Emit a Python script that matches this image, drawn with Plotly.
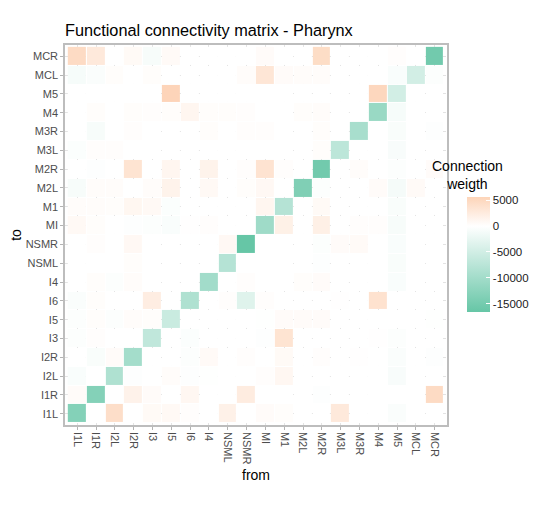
import plotly.graph_objects as go

# neurons, in axis order (bottom-to-top on y, left-to-right on x)
nodes = ["I1L", "I1R", "I2L", "I2R", "I3", "I5", "I6", "I4", "NSML", "NSMR",
         "MI", "M1", "M2L", "M2R", "M3L", "M3R", "M4", "M5", "MCL", "MCR"]

# "to" rows, top row first
to_rows = ["MCR", "MCL", "M5", "M4", "M3R", "M3L", "M2R", "M2L", "M1", "MI",
           "NSMR", "NSML", "I4", "I6", "I5", "I3", "I2R", "I2L", "I1R", "I1L"]

# connection weights, one list per "to" row, columns follow `nodes`
weights = [
    [4700, 2900, 0, 700, -900, 600, 0, 0, 0, 0, 500, 0, 0, 4500, 0, 0, 0, 200, 0, -15300],
    [-1000, -500, 300, 0, 300, 0, 0, 0, 0, 400, 3300, 500, 400, 400, 0, 0, 0, -600, -4900, -300],
    [0, 0, 0, 0, 0, 5600, 0, 0, 0, 0, 0, 0, 0, 0, 0, 0, 5200, -4900, 0, 0],
    [0, 300, 0, 300, 200, 300, 1200, 300, 300, 200, 0, 0, 300, 400, 0, 0, -11000, -1000, 0, 0],
    [0, -900, 0, 200, 0, 0, 0, 300, 0, 200, 200, 0, 0, 300, 0, -9400, 0, -700, 0, -200],
    [-400, 200, 200, 0, 0, 0, 0, 0, 0, 0, 0, 0, 0, 300, -7200, 0, 0, -800, 0, 0],
    [0, -200, 0, 3600, 0, 1200, 0, 1600, 0, 200, 3700, 200, 0, -15300, 0, 400, 0, -300, 0, 500],
    [-900, 400, 400, 0, 400, 1600, 0, 800, 0, 300, 900, 0, -13800, -300, 0, 0, 500, -1100, 600, 0],
    [400, 400, 300, 1100, 800, -400, 0, 0, 0, 0, 1200, -8000, 0, 700, 0, 0, 0, -700, 0, 0],
    [800, 300, 0, -200, -300, -600, 100, 200, 0, 0, -10400, 1900, 0, 2000, 0, 200, 200, -900, 0, 0],
    [0, 200, 0, 900, 0, 0, 0, 0, 900, -16600, 0, 0, 0, -300, 500, 600, 0, -600, 0, 0],
    [0, 0, 0, 300, 0, 0, 0, 0, -8000, 0, 0, 0, 0, -200, 0, 0, 0, -700, 0, 0],
    [0, 300, -300, 400, 0, 0, 0, -10000, 0, 200, 0, 0, 300, 500, 0, 0, 0, -600, 0, 0],
    [-500, 300, 0, 0, 2300, 0, -8600, 0, 200, -3500, 200, 0, 0, 0, 100, 0, 3800, 0, 0, 0],
    [-300, 300, -300, 400, 300, -5800, 0, 0, 0, 0, -100, 500, 500, 500, 0, 0, 0, 0, 0, -100],
    [-300, 200, 0, 0, -6800, 0, -400, 0, 0, 0, -200, 3600, 0, 0, 0, 0, 100, -300, 0, 0],
    [0, -700, 500, -9800, 0, 0, -300, 600, 0, 200, 0, 700, 0, 200, 0, 100, 0, -500, 0, -200],
    [-600, 0, -8600, -200, 0, 400, -200, -100, 0, 0, 200, 1000, 0, 0, 0, 0, 0, -800, 0, 0],
    [500, -13300, 0, 1700, 500, 0, 1000, 0, 0, 2500, 0, 0, 0, -200, 0, 0, 0, 0, 0, 4700],
    [-13300, 0, 4300, 0, 700, 800, 200, 0, 1800, 0, 500, 300, 0, 0, 2900, 0, 0, -500, 0, 0],
]

zmin, zmax = -16600, 5650
bar_ticks = [-15000, -10000, -5000, 0, 5000]
mid = -zmin / (zmax - zmin)

fig = go.Figure(go.Heatmap(
    z=weights, x=nodes, y=to_rows,
    zmin=zmin, zmax=zmax,
    colorscale=[[0, "#66c6a6"], [mid / 2, "#b2e2d3"], [mid, "#ffffff"], [1, "#fdd4b8"]],
    xgap=1, ygap=1,
    colorbar=dict(
        x=1.052, xanchor="left", y=0.449, yanchor="middle",
        len=115, lenmode="pixels", thickness=23, outlinewidth=0,
        xpad=0, ypad=0,
        tickvals=bar_ticks, ticktext=[str(v) for v in bar_ticks],
        ticks="inside", ticklen=4, tickcolor="white",
        tickfont=dict(family="Liberation Sans", size=11.5, color="#1a1a1a"),
    ),
))

axis_style = dict(
    type="category", categoryorder="array", categoryarray=nodes,
    showgrid=True, gridcolor="#e3e3e3", griddash="dot", gridwidth=1,
    showline=True, mirror=True, linecolor="#bdbdbd", linewidth=1.5,
    ticks="outside", ticklen=3, tickcolor="#b3b3b3",
    tickfont=dict(family="Liberation Sans", size=11, color="#4d4d4d"),
    zeroline=False, automargin=False,
)

fig.update_xaxes(axis_style, range=[-0.65, 19.65], tickangle=90,
                 title=dict(text="from", standoff=7,
                            font=dict(family="Liberation Sans", size=14, color="black")))
fig.update_yaxes(axis_style, range=[-0.6, 19.6],
                 title=dict(text="to", standoff=6,
                            font=dict(family="Liberation Sans", size=14, color="black")))

fig.add_annotation(text="Connection<br>weigth", xref="paper", yref="paper",
                   x=1.152, y=0.658, showarrow=False, align="center",
                   font=dict(family="Liberation Sans", size=14, color="black"))

# the page adds an 8px body margin, so the figure is 8px smaller than the window
fig.update_layout(
    width=547, height=498,
    margin=dict(l=57, r=108, t=37, b=81),
    plot_bgcolor="white", paper_bgcolor="white",
    title=dict(text="Functional connectivity matrix - Pharynx",
               x=0, xref="paper", xanchor="left",
               y=1 - 22 / 498, yanchor="middle",
               font=dict(family="Liberation Sans", size=16.3, color="black")),
)

fig.write_html("out.html")
